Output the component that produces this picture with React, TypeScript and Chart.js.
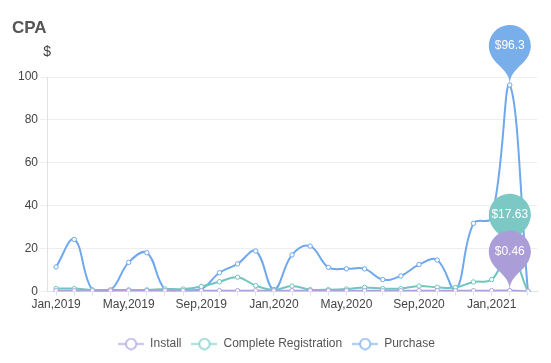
import React, { useEffect, useRef } from "react";
import { Chart, registerables } from "chart.js";

Chart.register(...registerables);

const labels = [
  "Jan,2019", "Feb,2019", "Mar,2019", "Apr,2019", "May,2019", "Jun,2019",
  "Jul,2019", "Aug,2019", "Sep,2019", "Oct,2019", "Nov,2019", "Dec,2019",
  "Jan,2020", "Feb,2020", "Mar,2020", "Apr,2020", "May,2020", "Jun,2020",
  "Jul,2020", "Aug,2020", "Sep,2020", "Oct,2020", "Nov,2020", "Dec,2020",
  "Jan,2021", "Feb,2021", "Mar,2021",
];

const installValues = [
  0.42, 0.4, 0.38, 0.39, 0.41, 0.4, 0.43, 0.41, 0.4, 0.42, 0.44, 0.41,
  0.39, 0.42, 0.4, 0.41, 0.43, 0.42, 0.4, 0.41, 0.43, 0.42, 0.4, 0.44,
  0.45, 0.46, 0.2,
];

const registrationValues = [
  1.4, 1.4, 0.8, 0.8, 0.8, 0.8, 1.2, 1.2, 2.4, 4.6, 6.7, 2.8,
  0.8, 2.6, 0.9, 0.9, 1.2, 1.9, 1.4, 1.4, 2.6, 2.0, 1.9, 4.5,
  5.6, 17.63, 0,
];

const purchaseValues = [
  11.5, 24.3, 0.6, 0.6, 13.6, 18.1, 1.0, 0.8, 1.2, 8.8, 12.9, 18.9,
  1.0, 17.1, 21.2, 11.3, 10.6, 10.6, 5.6, 7.3, 12.6, 14.7, 0.5, 31.8,
  34.3, 96.3, 0,
];

const seriesNames = ["Install", "Complete Registration", "Purchase"];
const lineColors = ["#ad9fe0", "#6fc6bf", "#6fa8ec"];
const pinColors = ["#ab9ed8", "#7cc8c4", "#78aeea"];
const legendColors = ["#b4a6e6", "#82d0ca", "#80b3ef"];
const yMin = 0;
const yMax = 100;
const yStep = 20;
const labelEvery = 4;

const FONT = "'Liberation Sans', Arial, Helvetica, sans-serif";

function makeLegendIcon(color: string) {
  const c = document.createElement("canvas");
  c.width = 26;
  c.height = 13;
  const ctx = c.getContext("2d")!;
  ctx.strokeStyle = color;
  ctx.lineWidth = 1.5;
  ctx.beginPath();
  ctx.moveTo(0, 6.5);
  ctx.lineTo(26, 6.5);
  ctx.stroke();
  ctx.beginPath();
  ctx.arc(13, 6.5, 5.2, 0, Math.PI * 2);
  ctx.fillStyle = "#fff";
  ctx.fill();
  ctx.stroke();
  return c;
}

function drawPin(ctx: CanvasRenderingContext2D, x: number, y: number, color: string, text: string) {
  const r = 21;
  const D = 39;
  const u = (D + Math.sqrt(D * D + 4 * r * r)) / 2;
  const dy = (r * r) / u;
  const cy = y - D;
  const angle = Math.asin(dy / r);
  const dx = Math.cos(angle) * r;
  const tanX = Math.sin(angle);
  const tanY = Math.cos(angle);
  const cpLen = r * 0.6;
  const cpLen2 = r * 0.7;
  ctx.save();
  ctx.beginPath();
  ctx.moveTo(x - dx, cy + dy);
  ctx.arc(x, cy, r, Math.PI - angle, Math.PI * 2 + angle);
  ctx.bezierCurveTo(x + dx - tanX * cpLen, cy + dy + tanY * cpLen, x, y - cpLen2, x, y);
  ctx.bezierCurveTo(x, y - cpLen2, x - dx + tanX * cpLen, cy + dy + tanY * cpLen, x - dx, cy + dy);
  ctx.closePath();
  ctx.fillStyle = color;
  ctx.fill();
  ctx.fillStyle = "#fff";
  ctx.font = `12px ${FONT}`;
  ctx.textAlign = "center";
  ctx.textBaseline = "middle";
  ctx.fillText(text, x, cy);
  ctx.restore();
}

const pinPlugin = {
  id: "pins",
  afterDatasetsDraw(chart: any) {
    const ctx = chart.ctx;
    for (let di = chart.data.datasets.length - 1; di >= 0; di--) {
      const data = chart.data.datasets[di].data as number[];
      let mi = 0;
      data.forEach((v, i) => {
        if (v > data[mi]) mi = i;
      });
      const pt = chart.getDatasetMeta(di).data[mi];
      drawPin(ctx, pt.x, pt.y, pinColors[di], "$" + data[mi]);
    }
  },
};

const headerPlugin = {
  id: "header",
  afterDraw(chart: any) {
    const ctx = chart.ctx;
    ctx.save();
    ctx.fillStyle = "#555";
    ctx.font = `bold 17px ${FONT}`;
    ctx.textAlign = "left";
    ctx.textBaseline = "middle";
    ctx.fillText("CPA", 12, 28);
    ctx.fillStyle = "#444";
    ctx.font = `14px ${FONT}`;
    ctx.textAlign = "center";
    ctx.fillText("$", chart.chartArea.left, 52);
    ctx.restore();
  },
};

export default function App() {
  const ref = useRef<HTMLCanvasElement>(null);
  useEffect(() => {
    if (!ref.current) return;
    const icons = legendColors.map(makeLegendIcon);
    const series = [installValues, registrationValues, purchaseValues];
    const chart = new Chart(ref.current, {
      type: "line",
      data: {
        labels,
        datasets: series.map((d, i) => ({
          label: seriesNames[i],
          data: d,
          borderColor: lineColors[i],
          backgroundColor: lineColors[i],
          borderWidth: 2,
          pointRadius: 2.2,
          pointBackgroundColor: "#fff",
          pointBorderColor: lineColors[i],
          pointBorderWidth: 1,
          tension: 0.4,
          fill: false,
        })),
      },
      options: {
        animation: false,
        responsive: false,
        maintainAspectRatio: false,
        layout: { padding: { top: 77, left: 16, right: 14, bottom: 3 } },
        plugins: {
          tooltip: { enabled: false },
          legend: {
            position: "bottom",
            labels: {
              usePointStyle: true,
              pointStyleWidth: 26,
              boxHeight: 12,
              padding: 10,
              color: "#555",
              font: { size: 12, family: FONT },
              generateLabels: (c: any) => {
                const items = (Chart.defaults.plugins.legend.labels as any).generateLabels(c);
                return items.map((it: any, i: number) => ({ ...it, pointStyle: icons[i], fontColor: "#555" }));
              },
            },
          },
        },
        scales: {
          x: {
            offset: true,
            afterFit: (scale: any) => {
              scale.height += 14;
            },
            grid: { display: true, drawOnChartArea: false, offset: false, tickLength: 4, color: "#dfe1ea" },
            border: { color: "#dfe1ea" },
            ticks: {
              autoSkip: false,
              maxRotation: 0,
              padding: 2,
              color: "#444",
              font: { size: 12, family: FONT },
              callback: (_v: any, i: number) => (i % labelEvery === 0 ? labels[i] : ""),
            },
          },
          y: {
            min: yMin,
            max: yMax,
            ticks: { stepSize: yStep, padding: 2, color: "#444", font: { size: 12, family: FONT } },
            grid: { color: "#eeeeee", tickLength: 7 },
            border: { color: "#dfe1ea" },
          },
        },
      },
      plugins: [pinPlugin, headerPlugin],
    } as any);
    return () => chart.destroy();
  }, []);
  return (
    <div style={{ position: "fixed", left: 0, top: 0, width: 551, height: 363, background: "#fff" }}>
      <canvas ref={ref} width={551} height={363} style={{ width: 551, height: 363 }} />
    </div>
  );
}
